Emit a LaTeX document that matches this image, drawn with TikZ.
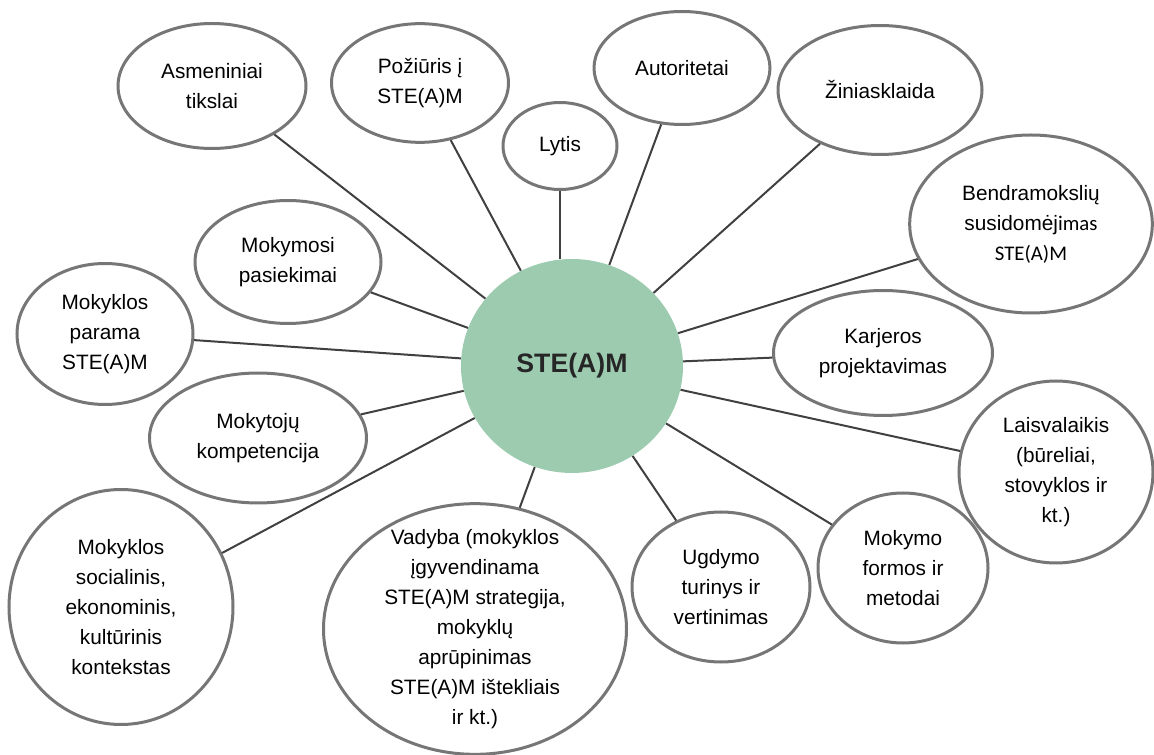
\documentclass[tikz,border=0pt]{standalone}
\usepackage{fontspec}
\setmainfont{Liberation Sans}
\newfontfamily\calibri{Carlito}
\usetikzlibrary{shapes.geometric}
\definecolor{rimgray}{RGB}{118,118,118}
\definecolor{linegray}{RGB}{64,64,64}
\definecolor{steamgreen}{RGB}{156,203,176}
\begin{document}
\begin{tikzpicture}[x=0.75pt,y=-0.75pt]
    \useasboundingbox (0,0) rectangle (1154,755);
    \node (steam)[ellipse,fill=steamgreen,minimum width=166.5pt,minimum height=160.5pt,text=black!85,
      font=\fontsize{20}{24}\selectfont\bfseries] at (572,366) {STE(A)M};
    \begin{scope}[every node/.style={ellipse,draw=rimgray,line width=2.25pt,fill=white,
        inner sep=0pt,align=center,font=\fontsize{15.6}{22.5}\selectfont}]
      \node (tikslai)[minimum width=141pt,minimum height=93.75pt] at (212,86) {Asmeniniai\\tikslai};
      \node (poziuris)[minimum width=132.75pt,minimum height=89pt] at (420,83) {Požiūris į\\STE(A)M};
      \node (lytis)[minimum width=85.5pt,minimum height=65.25pt] at (560,146) {Lytis};
      \node (autoritetai)[minimum width=132pt,minimum height=84.75pt] at (682,68) {Autoritetai};
      \node (ziniasklaida)[minimum width=153pt,minimum height=96.75pt] at (880,90) {Žiniasklaida};
      \node (susidomejimas)[minimum width=182pt,minimum height=133.5pt] at (1031,224)
        {Bendramokslių\\susidomėj{\calibri imas}\\{\calibri STE(A)M}};
      \node (pasiekimai)[minimum width=139.5pt,minimum height=92.25pt] at (288,262) {Mokymosi\\pasiekimai};
      \node (parama)[minimum width=132pt,minimum height=105.75pt] at (105,334) {Mokyklos\\parama\\STE(A)M};
      \node (kompetencija)[minimum width=162.75pt,minimum height=97.5pt] at (258,438) {Mokytojų\\kompetencija};
      \node (kontekstas)[minimum width=168pt,minimum height=176.25pt] at (121,607)
        {Mokyklos\\socialinis,\\ekonominis,\\kultūrinis\\kontekstas};
      \node (vadyba)[minimum width=227.25pt,minimum height=188pt,inner ysep=-18pt] at (475,629)
        {Vadyba (mokyklos\\įgyvendinama\\STE(A)M strategija,\\mokyklų\\aprūpinimas\\STE(A)M ištekliais\\ir kt.)};
      \node (turinys)[minimum width=133.5pt,minimum height=112.5pt] at (721,587) {Ugdymo\\turinys ir\\vertinimas};
      \node (metodai)[minimum width=127.5pt,minimum height=112.5pt] at (903,568) {Mokymo\\formos ir\\metodai};
      \node (laisvalaikis)[minimum width=145.5pt,minimum height=136.5pt] at (1056,472)
        {Laisvalaikis\\(būreliai,\\stovyklos ir\\kt.)};
      \node (karjera)[minimum width=164.25pt,minimum height=93.75pt] at (883,353) {Karjeros\\projektavimas};
    \end{scope}
    \begin{scope}[every edge/.style={draw=linegray,line width=1.5pt}]
      \path (steam) edge (tikslai)
            (steam) edge (poziuris)
            (lytis) edge (lytis |- steam.north)
            (steam) edge (autoritetai)
            (steam) edge (ziniasklaida)
            (steam) edge (susidomejimas)
            (steam) edge (pasiekimai)
            (steam) edge (parama)
            (steam) edge (kompetencija)
            (steam) edge (kontekstas)
            (steam) edge (vadyba)
            (steam) edge (turinys)
            (steam) edge (metodai)
            (steam) edge (laisvalaikis)
            (steam) edge (karjera);
    \end{scope}
\end{tikzpicture}
\end{document}
